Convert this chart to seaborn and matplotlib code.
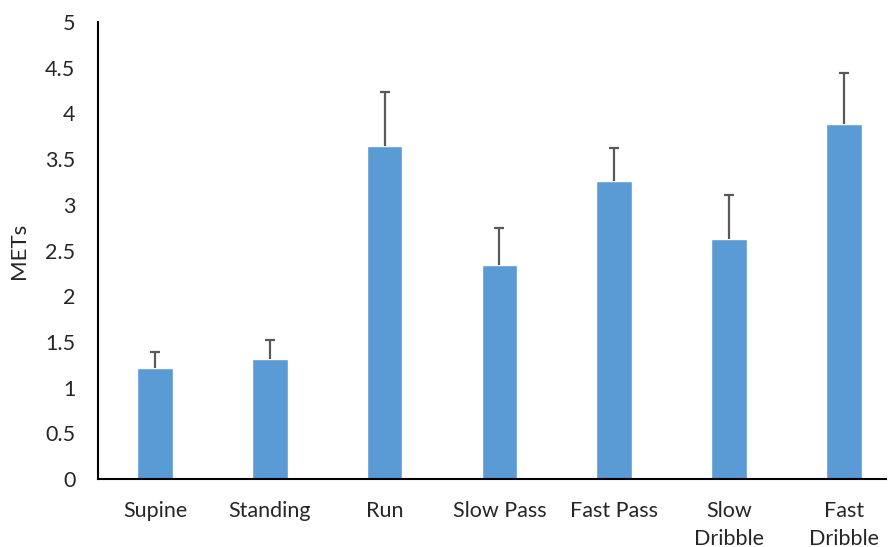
import numpy as np
import pandas as pd
import matplotlib
matplotlib.use("Agg")
import matplotlib.pyplot as plt
import seaborn as sns

# ------------------------------ data ------------------------------
activities = ["Supine", "Standing", "Run", "Slow Pass", "Fast Pass", "Slow\nDribble", "Fast\nDribble"]
mets = [1.22, 1.31, 3.64, 2.34, 3.26, 2.63, 3.88]
mets_sd = [0.17, 0.21, 0.59, 0.41, 0.36, 0.48, 0.56]

df = pd.DataFrame({"Activity": activities, "METs": mets, "SD": mets_sd})

# ------------------------------ plot ------------------------------
sns.set_style("white")
plt.rcParams['font.family'] = ['Lato', 'DejaVu Sans']

fig = plt.figure(figsize=(8.88, 5.47), dpi=100)
ax = fig.add_axes([0.110, 0.124, 0.888, 0.836])

sns.barplot(data=df, x="Activity", y="METs", color="#5B9BD5", width=0.31,
            saturation=1, errorbar=None, ax=ax)
xpos = np.arange(len(df))
eb = ax.errorbar(xpos, df["METs"], yerr=[np.zeros(len(df)), df["SD"]], fmt="none",
                 ecolor="#595959", elinewidth=1.6, capsize=3.8, capthick=1.6)
# upper error only: hide the caps sitting on top of the bars
eb[1][0].set_visible(False)

ax.set_ylim(0, 5)
ax.set_xlim(-0.5, 6.37)
ax.set_yticks(np.arange(0, 5.01, 0.5))
ax.set_yticklabels(["0", "0.5", "1", "1.5", "2", "2.5", "3", "3.5", "4", "4.5", "5"])
ax.set_ylabel("METs", fontsize=16, labelpad=12)
ax.set_xlabel("")
ax.tick_params(axis="both", labelsize=15.5, length=0)
ax.tick_params(axis="y", pad=16)
ax.tick_params(axis="x", pad=16)
for lbl in ax.get_xticklabels():
    lbl.set_linespacing(1.45)

for side in ["top", "right"]:
    ax.spines[side].set_visible(False)
for side in ["left", "bottom"]:
    ax.spines[side].set_color("black")
    ax.spines[side].set_linewidth(1.5)

fig.savefig("out.png", dpi=100)
